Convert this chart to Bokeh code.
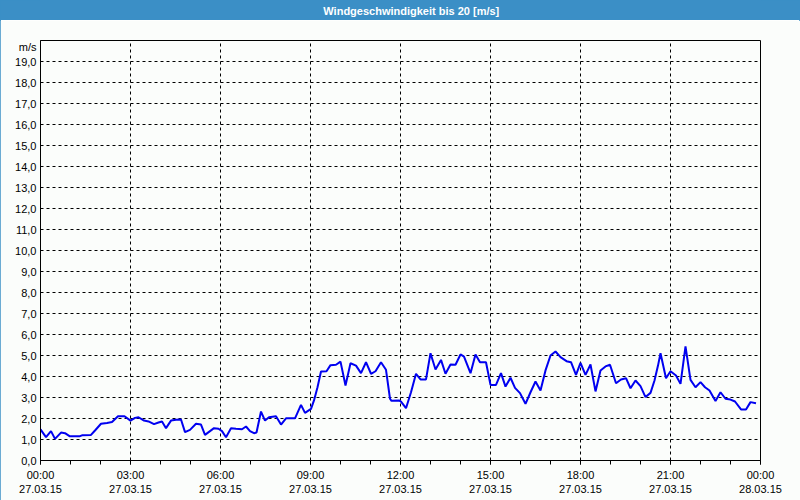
from bokeh.plotting import figure
from bokeh.models import Range1d, FixedTicker
from bokeh.layouts import column
from bokeh.core.properties import value
from bokeh.embed import file_html
from bokeh.resources import INLINE

title_text = "Windgeschwindigkeit bis 20 [m/s]"
unit_label = "m/s"

# time in minutes after 27.03.15 00:00
times_min = [0, 11, 21, 29, 41, 49, 58, 79, 83, 101, 109, 121, 133, 143, 155, 168, 180, 189,
             196, 207, 216, 227, 236, 243, 251, 261, 271, 281, 289, 299, 311, 321, 329, 339,
             347, 356, 363, 371, 381, 391, 403, 411, 419, 427, 432, 441, 449, 457, 471, 481,
             491, 509, 521, 529, 541, 547, 554, 561, 572, 580, 591, 600, 610, 620, 631, 641,
             651, 661, 670, 681, 691, 699, 702, 717, 721, 731, 741, 751, 760, 771, 780, 790,
             801, 810, 820, 830, 840, 847, 860, 870, 879, 891, 900, 911, 921, 930, 940, 949,
             959, 970, 980, 990, 1000, 1010, 1020, 1030, 1040, 1052, 1061, 1071, 1080, 1090,
             1100, 1110, 1120, 1130, 1139, 1151, 1161, 1171, 1180, 1190, 1200, 1210, 1220,
             1228, 1235, 1240, 1251, 1260, 1271, 1280, 1290, 1300, 1310, 1320, 1329, 1338,
             1350, 1360, 1370, 1380, 1389, 1401, 1411, 1420, 1431]
wind_ms = [1.48, 1.11, 1.40, 1.03, 1.33, 1.30, 1.16, 1.16, 1.20, 1.22, 1.43, 1.75, 1.79, 1.83,
           2.11, 2.11, 1.90, 2.03, 2.06, 1.90, 1.86, 1.73, 1.81, 1.86, 1.54, 1.90, 1.94, 1.95,
           1.35, 1.46, 1.75, 1.71, 1.22, 1.40, 1.54, 1.51, 1.40, 1.11, 1.54, 1.51, 1.49, 1.62,
           1.40, 1.30, 1.33, 2.33, 1.90, 2.06, 2.11, 1.71, 2.01, 2.01, 2.65, 2.27, 2.46, 2.86,
           3.49, 4.24, 4.25, 4.54, 4.56, 4.71, 3.57, 4.63, 4.52, 4.16, 4.68, 4.13, 4.25, 4.68,
           4.32, 2.94, 2.84, 2.86, 2.80, 2.49, 3.25, 4.13, 3.86, 3.86, 5.11, 4.33, 4.79, 4.13,
           4.57, 4.56, 5.05, 4.95, 4.16, 5.05, 4.68, 4.68, 3.60, 3.60, 4.16, 3.52, 3.94, 3.46,
           3.21, 2.70, 3.25, 3.76, 3.33, 4.29, 5.00, 5.19, 4.92, 4.73, 4.68, 4.08, 4.65, 4.08,
           4.57, 3.29, 4.29, 4.48, 4.56, 3.68, 3.86, 3.92, 3.44, 3.81, 3.54, 3.02, 3.22, 3.81,
           4.52, 5.11, 3.92, 4.25, 4.05, 3.65, 5.43, 3.84, 3.49, 3.73, 3.49, 3.33, 2.83, 3.25,
           2.94, 2.90, 2.81, 2.43, 2.43, 2.78, 2.73]

x_tick_min = [0, 180, 360, 540, 720, 900, 1080, 1260, 1440]
x_tick_labels = ["00:00\n27.03.15", "03:00\n27.03.15", "06:00\n27.03.15", "09:00\n27.03.15",
                 "12:00\n27.03.15", "15:00\n27.03.15", "18:00\n27.03.15", "21:00\n27.03.15",
                 "00:00\n28.03.15"]
x_minor_min = list(range(0, 1441, 60))
y_ticks = list(range(0, 20))
y_tick_labels = ["%d,0" % v for v in y_ticks]
unit_pos = 19.7

BAR = "#3b8fc6"
BG = "#fbfdfb"
FONT = "Liberation Sans"

top = figure(width=800, height=20, x_range=Range1d(0, 800), y_range=Range1d(0, 20),
             toolbar_location=None, output_backend="svg", min_border=0,
             x_axis_location=None, y_axis_location=None)
top.grid.visible = False
top.outline_line_color = BAR
top.outline_line_width = 3
top.background_fill_color = BAR
top.border_fill_color = BAR
top.text(x=[412], y=[10], text=[title_text], text_align="center", text_baseline="middle",
         text_color="white", text_font=value(FONT), text_font_size="11px",
         text_font_style="bold")

p = figure(width=800, height=480, x_range=Range1d(0, 1440), y_range=Range1d(0, 20),
           min_border_left=40, min_border_right=40, min_border_top=20, min_border_bottom=40,
           toolbar_location=None, output_backend="svg")
p.background_fill_color = BG
p.border_fill_color = BG
p.outline_line_color = "black"
p.outline_line_width = 1

p.line(times_min, wind_ms, line_color="#0000f0", line_width=2)

xa = p.xaxis[0]
xa.ticker = FixedTicker(ticks=x_tick_min, minor_ticks=x_minor_min)
xa.major_label_overrides = {t: l for t, l in zip(x_tick_min, x_tick_labels)}
xa.major_tick_out = 4
xa.major_tick_in = 0
xa.minor_tick_out = 4
xa.minor_tick_in = 0
xa.major_label_standoff = 4
xa.axis_line_color = "black"
xa.major_label_text_font = FONT
xa.major_label_text_font_size = "11px"
xa.major_label_text_color = "black"

ya = p.yaxis[0]
ya.ticker = FixedTicker(ticks=y_ticks + [unit_pos])
ov = {t: l for t, l in zip(y_ticks, y_tick_labels)}
ov[unit_pos] = unit_label
ya.major_label_overrides = ov
ya.major_tick_out = 0
ya.major_tick_in = 0
ya.minor_tick_out = 0
ya.minor_tick_in = 0
ya.major_label_standoff = 4
ya.axis_line_color = "black"
ya.major_label_text_font = FONT
ya.major_label_text_font_size = "11px"
ya.major_label_text_color = "black"

p.xgrid.ticker = FixedTicker(ticks=x_tick_min[1:-1])
p.ygrid.ticker = FixedTicker(ticks=y_ticks[1:])
for g in (p.xgrid[0], p.ygrid[0]):
    g.grid_line_color = "black"
    g.grid_line_alpha = 1.0
    g.grid_line_dash = "3 3"
    g.grid_line_width = 1

layout = column(top, p, spacing=0,
                styles={"outline": "1px solid " + BAR, "outline-offset": "-1px"})
open("out.html", "w").write(file_html(layout, INLINE))
